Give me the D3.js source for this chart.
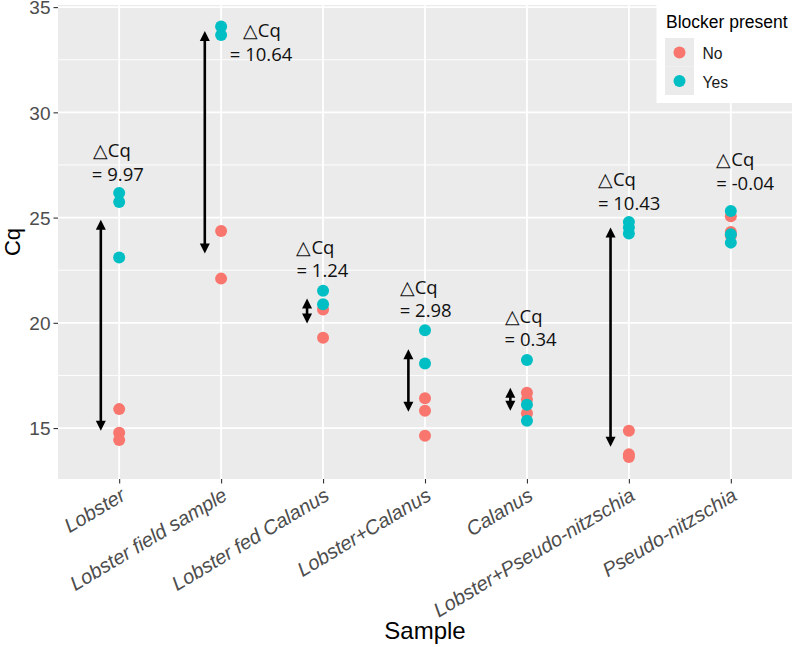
<!DOCTYPE html>
<html>
<head>
<meta charset="utf-8">
<script src="https://cdn.jsdelivr.net/npm/d3@7"></script>
<style>
  html, body { margin: 0; padding: 0; background: #fff; }
  svg { display: block; }
</style>
</head>
<body>
<svg id="chart" width="794" height="647"></svg>
<script>
// ---------------- data ----------------
const categories = ["Lobster", "Lobster field sample", "Lobster fed Calanus", "Lobster+Calanus",
  "Calanus", "Lobster+Pseudo-nitzschia", "Pseudo-nitzschia"];
const groups = ["No", "Yes"];
const noValues = [
  [15.9, 14.78, 14.43],
  [24.36, 22.1],
  [19.29, 20.63],
  [16.42, 15.82, 14.63],
  [16.68, 16.36, 15.7],
  [14.87, 13.75, 13.62],
  [25.06, 24.32, 24.15]
];
const yesValues = [
  [26.17, 25.74, 23.1],
  [34.08, 33.68],
  [21.52, 20.88],
  [19.65, 18.07],
  [18.23, 16.11, 15.35],
  [24.79, 24.53, 24.24],
  [25.31, 24.21, 23.81]
];
const yTicks = [15, 20, 25, 30, 35];
// annotations: delta Cq text and arrow ends (in Cq units)
const deltaText = ["9.97", "10.64", "1.24", "2.98", "0.34", "10.43", "-0.04"];
const arrowLow  = [14.87, 23.29, 19.97, 15.77, 15.82, 14.11, null];
const arrowHigh = [24.9, 33.87, 21.16, 18.74, 16.91, 24.53, null];
const labelCq   = [27.86, 33.56, 23.29, 21.39, 20.0, 26.49, 27.43];
const labelDX1  = [-0.258, 0.213, -0.261, -0.248, -0.219, -0.304, -0.143];
const labelDX2  = [-0.268, 0.085, -0.261, -0.248, -0.219, -0.304, -0.143];
const arrowDX   = [-0.18, -0.16, -0.157, -0.163, -0.163, -0.18, 0];

// ---------------- layout ----------------
const svg = d3.select("#chart");
const panel = { left: 58, right: 792, top: 5, bottom: 479 };
const colors = d3.scaleOrdinal().domain(groups).range(["#F8766D", "#00BFC4"]);

const x = d3.scalePoint().domain(categories).range([panel.left, panel.right]).padding(0.6);
const step = x.step();
const y = d3.scaleLinear().domain([12.58, 35.1]).range([panel.bottom, panel.top]);

// panel background
svg.append("rect").attr("x", panel.left).attr("y", panel.top)
  .attr("width", panel.right - panel.left).attr("height", panel.bottom - panel.top)
  .attr("fill", "#EBEBEB");

// minor grid
const minor = yTicks.slice(0, -1).map(d => d + 2.5);
svg.append("g").selectAll("line").data(minor).join("line")
  .attr("x1", panel.left).attr("x2", panel.right)
  .attr("y1", d => y(d)).attr("y2", d => y(d))
  .attr("stroke", "#fff").attr("stroke-width", 0.9);
// major grid
svg.append("g").selectAll("line").data(yTicks).join("line")
  .attr("x1", panel.left).attr("x2", panel.right)
  .attr("y1", d => y(d)).attr("y2", d => y(d))
  .attr("stroke", "#fff").attr("stroke-width", 1.8);
svg.append("g").selectAll("line").data(categories).join("line")
  .attr("x1", d => x(d)).attr("x2", d => x(d))
  .attr("y1", panel.top).attr("y2", panel.bottom)
  .attr("stroke", "#fff").attr("stroke-width", 1.8);

// points
const pts = [];
categories.forEach((c, i) => {
  noValues[i].forEach(v => pts.push({ c, g: "No", v }));
  yesValues[i].forEach(v => pts.push({ c, g: "Yes", v }));
});
svg.append("g").selectAll("circle").data(pts).join("circle")
  .attr("cx", d => x(d.c)).attr("cy", d => y(d.v)).attr("r", 6)
  .attr("fill", d => colors(d.g));

// arrows
const ag = svg.append("g");
const headL = 10, headW = 5;
categories.forEach((c, i) => {
  if (arrowLow[i] == null) return;
  const ax = x(c) + arrowDX[i] * step;
  const yTop = y(arrowHigh[i]), yBot = y(arrowLow[i]);
  ag.append("line").attr("x1", ax).attr("x2", ax)
    .attr("y1", yTop + headL - 1).attr("y2", yBot - headL + 1)
    .attr("stroke", "#000").attr("stroke-width", 2.6);
  ag.append("path").attr("d", `M${ax},${yTop} L${ax - headW},${yTop + headL} L${ax + headW},${yTop + headL} Z`).attr("fill", "#000");
  ag.append("path").attr("d", `M${ax},${yBot} L${ax - headW},${yBot - headL} L${ax + headW},${yBot - headL} Z`).attr("fill", "#000");
});

// delta labels
const lg = svg.append("g").attr("font-family", "'Open Sans', 'Noto Sans', sans-serif")
  .attr("font-size", 18.5).attr("fill", "#111");
categories.forEach((c, i) => {
  const by = y(labelCq[i]);
  lg.append("text").attr("x", x(c) + labelDX1[i] * step).attr("y", by).text("\u25B3Cq");
  lg.append("text").attr("x", x(c) + labelDX2[i] * step).attr("y", by + 23.3).text("= " + deltaText[i]);
});

// axes
const yAxis = svg.append("g").attr("transform", `translate(${panel.left},0)`)
  .call(d3.axisLeft(y).tickValues(yTicks).tickSize(4.5).tickPadding(3));
yAxis.select(".domain").remove();
yAxis.selectAll(".tick line").attr("stroke", "#333").attr("stroke-width", 1.1);
yAxis.selectAll(".tick text").attr("font-family", "'Liberation Sans', Arial, sans-serif")
  .attr("font-size", 19).attr("fill", "#4D4D4D").attr("dy", "0.36em");

const xAxis = svg.append("g").attr("transform", `translate(0,${panel.bottom})`)
  .call(d3.axisBottom(x).tickSize(4.5));
xAxis.select(".domain").remove();
xAxis.selectAll(".tick line").attr("stroke", "#333").attr("stroke-width", 1.1);
xAxis.selectAll(".tick text")
  .attr("font-family", "'Liberation Sans', Arial, sans-serif")
  .attr("font-style", "italic").attr("font-size", 20).attr("fill", "#4D4D4D")
  .attr("text-anchor", "end").attr("x", 0).attr("y", 0).attr("dy", 0)
  .attr("transform", "translate(7,20) rotate(-31)");

// axis titles
svg.append("text").attr("x", (panel.left + panel.right) / 2).attr("y", 639)
  .attr("text-anchor", "middle").attr("font-family", "'Liberation Sans', Arial, sans-serif")
  .attr("font-size", 24).attr("fill", "#000").text("Sample");
svg.append("text").attr("transform", `translate(20,${(panel.top + panel.bottom) / 2}) rotate(-90)`)
  .attr("text-anchor", "middle").attr("font-family", "'Liberation Sans', Arial, sans-serif")
  .attr("font-size", 22).attr("fill", "#000").text("Cq");

// legend
const leg = svg.append("g");
leg.append("rect").attr("x", 656.5).attr("y", 0).attr("width", 794 - 656.5).attr("height", 103)
  .attr("fill", "#fff");
leg.append("text").attr("x", 666).attr("y", 27.5)
  .attr("font-family", "'Liberation Sans', Arial, sans-serif").attr("font-size", 17.5)
  .attr("fill", "#000").text("Blocker present");
groups.forEach((g, i) => {
  const ky = 38 + i * 28.5;
  leg.append("rect").attr("x", 665).attr("y", ky).attr("width", 29).attr("height", 28.5)
    .attr("fill", "#EBEBEB");
  leg.append("circle").attr("cx", 679.5).attr("cy", ky + 14.5).attr("r", 6).attr("fill", colors(g));
  leg.append("text").attr("x", 702.5).attr("y", ky + 21)
    .attr("font-family", "'Liberation Sans', Arial, sans-serif").attr("font-size", 15.7)
    .attr("fill", "#1a1a1a").text(g);
});
</script>
</body>
</html>
